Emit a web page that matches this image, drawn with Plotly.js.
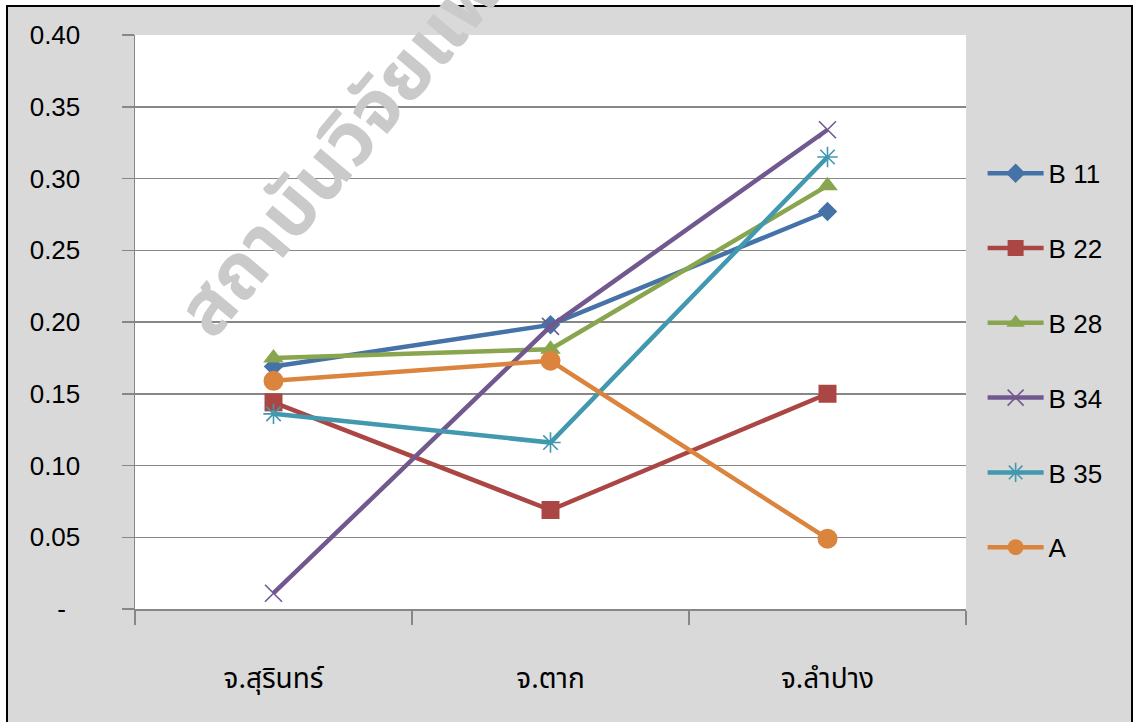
<!DOCTYPE html>
<html>
<head>
<meta charset="utf-8">
<script src="https://cdn.plot.ly/plotly-3.0.1.min.js"></script>
<style>
  html, body { margin: 0; padding: 0; background: #ffffff; }
  #frame {
    position: absolute; left: 6px; top: 5px; width: 1123px; height: 740px;
    background: #d9d9d9; border-left: 2px solid #000; border-top: 2px solid #000; border-right: 2px solid #000;
  }
  #chart { position: absolute; left: 0; top: 0; width: 1133px; height: 722px; }
</style>
</head>
<body>
<div id="frame"></div>
<div id="chart"></div>
<script>
// Provinces on the x axis
const categories = ['จ.สุรินทร์', 'จ.ตาก', 'จ.ลำปาง'];

// Series values per province
const seriesNames = ['B 11', 'B 22', 'B 28', 'B 34', 'B 35', 'A'];
const b11 = [0.169, 0.198, 0.277];
const b22 = [0.144, 0.069, 0.150];
const b28 = [0.175, 0.181, 0.295];
const b34 = [0.011, 0.197, 0.334];
const b35 = [0.136, 0.116, 0.315];
const a   = [0.159, 0.173, 0.049];

// Y axis ticks
const yTickVals = [0, 0.05, 0.10, 0.15, 0.20, 0.25, 0.30, 0.35, 0.40];
const yTickText = ['-\u00a0\u00a0', '0.05', '0.10', '0.15', '0.20', '0.25', '0.30', '0.35', '0.40'];

const watermark = 'สถาบันวิจัยแพทย์';

const values = [b11, b22, b28, b34, b35, a];
const colors = ['#4572a7', '#aa4643', '#89a54e', '#71588f', '#4198af', '#db843d'];
const markers = [
  { symbol: 'diamond', size: 15 },
  { symbol: 'square', size: 18 },
  { symbol: 'triangle-up', size: 18 },
  { symbol: 'x-thin-open', size: 17, lw: 1.6 },
  { symbol: 'asterisk-open', size: 17, lw: 1.6 },
  { symbol: 'circle', size: 20 }
];

const traces = values.map((v, i) => {
  const m = markers[i];
  const marker = { color: colors[i], symbol: m.symbol, size: m.size };
  if (m.lw) marker.line = { color: colors[i], width: m.lw };
  return {
    type: 'scatter',
    mode: 'lines+markers',
    name: seriesNames[i],
    legendgroup: 'g' + i,
    x: categories,
    y: v,
    line: { color: colors[i], width: 4.5 },
    marker: marker,
    hoverinfo: 'x+y+name'
  };
});

const gridColor = '#878787';
const layout = {
  width: 1133,
  height: 722,
  margin: { l: 135, r: 167, t: 35, b: 113 },
  paper_bgcolor: 'rgba(0,0,0,0)',
  plot_bgcolor: '#ffffff',
  font: { family: 'Arial, "Liberation Sans", sans-serif', color: '#000000' },
  showlegend: true,
  legend: {
    x: 1.02, xanchor: 'left', y: 0.80, yanchor: 'top',
    bgcolor: 'rgba(0,0,0,0)',
    font: { size: 26, family: 'Arial, "Liberation Sans", sans-serif', color: '#000' },
    traceorder: 'grouped',
    tracegroupgap: 38,
    itemwidth: 56
  },
  xaxis: {
    type: 'category',
    range: [-0.5, 2.5],
    tickson: 'boundaries',
    ticks: 'outside', ticklen: 14, tickcolor: gridColor, tickwidth: 1.5,
    showline: true, linecolor: gridColor, linewidth: 1.5,
    showgrid: false,
    ticklabelstandoff: 44,
    tickfont: { size: 28, family: '"Noto Sans Thai", Tahoma, sans-serif', color: '#000' },
    fixedrange: true
  },
  yaxis: {
    range: [0, 0.4],
    tickvals: yTickVals,
    ticktext: yTickText,
    ticks: 'outside', ticklen: 12, tickcolor: gridColor, tickwidth: 1.5,
    showline: true, linecolor: gridColor, linewidth: 1.5,
    showgrid: true, gridcolor: gridColor, gridwidth: 1.5,
    zeroline: false,
    ticklabelstandoff: 36,
    tickfont: { size: 26, family: 'Arial, "Liberation Sans", sans-serif', color: '#000' },
    fixedrange: true
  },
  annotations: [{
    text: '<b>' + watermark + '</b>',
    xref: 'paper', yref: 'paper',
    x: 0.285, y: 0.86, xanchor: 'center', yanchor: 'middle',
    textangle: -50,
    showarrow: false,
    font: { size: 76, family: '"Noto Sans Thai", Tahoma, sans-serif', color: '#cacaca' }
  }]
};

Plotly.newPlot('chart', traces, layout, { displayModeBar: false, staticPlot: true });
</script>
</body>
</html>
